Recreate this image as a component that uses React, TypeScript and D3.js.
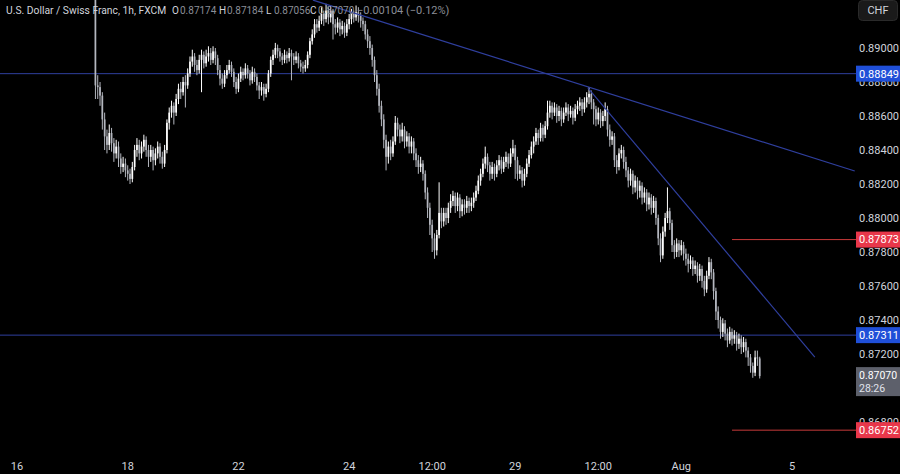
import React from "react";
import * as d3 from "d3";

const firstBar = 34;
const firstOpen = 0.8932;
const closes = [
  0.8878,0.8877,0.8872,0.8858,0.8848,0.8843,0.8850,0.8844,0.8838,0.8842,
  0.8835,0.8830,0.8832,0.8828,0.8826,0.8823,0.8830,0.8840,0.8843,0.8838,
  0.8842,0.8846,0.8840,0.8836,0.8840,0.8834,0.8838,0.8842,0.8836,0.8832,
  0.8840,0.8856,0.8862,0.8866,0.8862,0.8870,0.8876,0.8874,0.8880,0.8878,
  0.8885,0.8892,0.8895,0.8890,0.8887,0.8893,0.8896,0.8891,0.8895,0.8897,
  0.8893,0.8898,0.8894,0.8887,0.8882,0.8879,0.8884,0.8887,0.8890,0.8886,
  0.8880,0.8876,0.8882,0.8886,0.8884,0.8888,0.8885,0.8881,0.8886,0.8883,
  0.8878,0.8875,0.8877,0.8873,0.8876,0.8885,0.8893,0.8896,0.8900,0.8898,
  0.8895,0.8893,0.8896,0.8894,0.8897,0.8895,0.8893,0.8895,0.8891,0.8889,
  0.8888,0.8890,0.8896,0.8904,0.8908,0.8914,0.8912,0.8916,0.8920,0.8917,
  0.8922,0.8918,0.8922,0.8914,0.8912,0.8915,0.8911,0.8913,0.8909,0.8914,
  0.8917,0.8920,0.8918,0.8921,0.8919,0.8916,0.8914,0.8908,0.8904,0.8900,
  0.8893,0.8884,0.8876,0.8866,0.8858,0.8846,0.8836,0.8842,0.8838,0.8845,
  0.8856,0.8852,0.8848,0.8852,0.8845,0.8848,0.8842,0.8845,0.8838,0.8834,
  0.8830,0.8832,0.8826,0.8815,0.8806,0.8796,0.8788,0.8781,0.8790,0.8803,
  0.8798,0.8803,0.8800,0.8806,0.8810,0.8813,0.8807,0.8812,0.8804,0.8808,
  0.8806,0.8810,0.8807,0.8809,0.8812,0.8816,0.8822,0.8826,0.8832,0.8836,
  0.8831,0.8826,0.8830,0.8826,0.8831,0.8834,0.8829,0.8833,0.8836,0.8832,
  0.8838,0.8841,0.8834,0.8826,0.8828,0.8822,0.8826,0.8832,0.8837,0.8842,
  0.8845,0.8850,0.8847,0.8853,0.8849,0.8854,0.8862,0.8866,0.8862,0.8865,
  0.8860,0.8863,0.8858,0.8862,0.8865,0.8861,0.8863,0.8859,0.8864,0.8866,
  0.8868,0.8864,0.8868,0.8871,0.8873,0.8868,0.8864,0.8858,0.8862,0.8857,
  0.8860,0.8864,0.8852,0.8846,0.8848,0.8834,0.8830,0.8838,0.8840,0.8833,
  0.8828,0.8822,0.8826,0.8818,0.8822,0.8816,0.8819,0.8812,0.8815,0.8808,
  0.8812,0.8806,0.8810,0.8800,0.8788,0.8778,0.8792,0.8800,0.8804,0.8797,
  0.8784,0.8780,0.8785,0.8781,0.8784,0.8779,0.8776,0.8773,0.8775,0.8770,
  0.8772,0.8766,0.8770,0.8763,0.8758,0.8766,0.8774,0.8768,0.8757,0.8745,
  0.8740,0.8733,0.8738,0.8732,0.8728,0.8733,0.8729,0.8731,0.8726,0.8729,
  0.8724,0.8727,0.8722,0.8718,0.8713,0.8709,0.8718,0.87174,0.87070,
];
const highs = [
  0.8936,0.8884,0.8880,0.8874,0.8862,0.8852,0.8855,0.8853,0.8847,0.8846,
  0.8845,0.8838,0.8836,0.8835,0.8831,0.8829,0.8833,0.8843,0.8847,0.8846,
  0.8845,0.8849,0.8848,0.8843,0.8843,0.8842,0.8841,0.8845,0.8844,0.8839,
  0.8843,0.8858,0.8865,0.8869,0.8868,0.8873,0.8879,0.8880,0.8883,0.8884,
  0.8888,0.8895,0.8899,0.8897,0.8893,0.8896,0.8899,0.8898,0.8899,0.8901,
  0.8900,0.8901,0.8900,0.8896,0.8890,0.8885,0.8887,0.8890,0.8893,0.8892,
  0.8888,0.8883,0.8885,0.8889,0.8888,0.8891,0.8890,0.8887,0.8889,0.8888,
  0.8885,0.8880,0.8880,0.8879,0.8879,0.8887,0.8895,0.8899,0.8903,0.8902,
  0.8900,0.8897,0.8899,0.8898,0.8900,0.8899,0.8897,0.8898,0.8897,0.8893,
  0.8892,0.8893,0.8898,0.8906,0.8911,0.8917,0.8917,0.8919,0.8924,0.8922,
  0.8926,0.8924,0.8925,0.8923,0.8917,0.8918,0.8917,0.8916,0.8915,0.8917,
  0.8920,0.8923,0.8922,0.8925,0.8924,0.8921,0.8918,0.8916,0.8911,0.8907,
  0.8902,0.8895,0.8887,0.8879,0.8869,0.8861,0.8849,0.8845,0.8846,0.8848,
  0.8860,0.8859,0.8855,0.8856,0.8854,0.8851,0.8850,0.8848,0.8847,0.8841,
  0.8837,0.8836,0.8834,0.8828,0.8818,0.8809,0.8799,0.8791,0.8793,0.8821,
  0.8806,0.8806,0.8806,0.8809,0.8814,0.8816,0.8815,0.8815,0.8814,0.8811,
  0.8811,0.8813,0.8812,0.8812,0.8815,0.8819,0.8825,0.8829,0.8835,0.8842,
  0.8838,0.8833,0.8833,0.8832,0.8834,0.8837,0.8836,0.8836,0.8839,0.8838,
  0.8841,0.8846,0.8843,0.8836,0.8831,0.8830,0.8829,0.8835,0.8840,0.8845,
  0.8848,0.8853,0.8852,0.8856,0.8855,0.8857,0.8869,0.8869,0.8868,0.8868,
  0.8867,0.8866,0.8865,0.8865,0.8868,0.8867,0.8866,0.8865,0.8867,0.8869,
  0.8871,0.8870,0.8871,0.8874,0.8877,0.8875,0.8870,0.8866,0.8865,0.8864,
  0.8863,0.8868,0.8866,0.8855,0.8851,0.8850,0.8837,0.8841,0.8843,0.8842,
  0.8836,0.8830,0.8829,0.8828,0.8825,0.8824,0.8822,0.8821,0.8818,0.8817,
  0.8815,0.8814,0.8813,0.8812,0.8802,0.8791,0.8795,0.8803,0.8818,0.8806,
  0.8799,0.8787,0.8788,0.8787,0.8787,0.8786,0.8782,0.8779,0.8778,0.8777,
  0.8775,0.8774,0.8773,0.8772,0.8766,0.8769,0.8777,0.8776,0.8770,0.8759,
  0.8748,0.8742,0.8741,0.8740,0.8735,0.8736,0.8735,0.8734,0.8733,0.8732,
  0.8731,0.8730,0.8729,0.8724,0.8720,0.8715,0.8722,0.8722,0.87184,
];
const lows = [
  0.8870,0.8870,0.8866,0.8852,0.8840,0.8838,0.8840,0.8839,0.8833,0.8835,
  0.8830,0.8826,0.8827,0.8824,0.8822,0.8820,0.8821,0.8828,0.8836,0.8834,
  0.8835,0.8839,0.8836,0.8830,0.8833,0.8828,0.8831,0.8835,0.8832,0.8829,
  0.8830,0.8838,0.8852,0.8859,0.8855,0.8860,0.8867,0.8870,0.8872,0.8865,
  0.8876,0.8883,0.8889,0.8886,0.8884,0.8885,0.8874,0.8888,0.8889,0.8892,
  0.8890,0.8891,0.8890,0.8884,0.8878,0.8876,0.8877,0.8882,0.8885,0.8883,
  0.8877,0.8873,0.8874,0.8880,0.8881,0.8882,0.8882,0.8878,0.8879,0.8880,
  0.8875,0.8870,0.8872,0.8869,0.8871,0.8874,0.8883,0.8890,0.8894,0.8894,
  0.8892,0.8890,0.8891,0.8891,0.8892,0.8881,0.8890,0.8891,0.8888,0.8886,
  0.8885,0.8886,0.8888,0.8894,0.8902,0.8906,0.8909,0.8910,0.8914,0.8913,
  0.8915,0.8914,0.8915,0.8905,0.8908,0.8909,0.8907,0.8908,0.8906,0.8907,
  0.8911,0.8914,0.8915,0.8916,0.8915,0.8912,0.8910,0.8905,0.8900,0.8896,
  0.8889,0.8880,0.8872,0.8862,0.8854,0.8841,0.8828,0.8832,0.8834,0.8836,
  0.8843,0.8848,0.8844,0.8845,0.8841,0.8842,0.8838,0.8838,0.8834,0.8830,
  0.8826,0.8827,0.8822,0.8811,0.8800,0.8790,0.8780,0.8776,0.8778,0.8788,
  0.8794,0.8795,0.8796,0.8797,0.8803,0.8807,0.8803,0.8804,0.8800,0.8801,
  0.8802,0.8803,0.8803,0.8804,0.8806,0.8810,0.8814,0.8819,0.8824,0.8829,
  0.8827,0.8822,0.8823,0.8822,0.8824,0.8828,0.8826,0.8827,0.8830,0.8829,
  0.8830,0.8836,0.8823,0.8822,0.8823,0.8818,0.8819,0.8824,0.8830,0.8835,
  0.8838,0.8843,0.8843,0.8845,0.8845,0.8847,0.8852,0.8859,0.8858,0.8860,
  0.8856,0.8857,0.8854,0.8856,0.8860,0.8857,0.8859,0.8855,0.8857,0.8861,
  0.8863,0.8860,0.8862,0.8865,0.8867,0.8864,0.8855,0.8854,0.8855,0.8853,
  0.8854,0.8857,0.8848,0.8842,0.8843,0.8830,0.8826,0.8828,0.8835,0.8829,
  0.8824,0.8818,0.8819,0.8814,0.8815,0.8811,0.8812,0.8808,0.8809,0.8804,
  0.8805,0.8802,0.8803,0.8796,0.8784,0.8774,0.8776,0.8789,0.8797,0.8793,
  0.8780,0.8776,0.8777,0.8777,0.8778,0.8775,0.8772,0.8768,0.8770,0.8766,
  0.8767,0.8762,0.8763,0.8759,0.8754,0.8756,0.8764,0.8764,0.8752,0.8740,
  0.8735,0.8729,0.8730,0.8728,0.8724,0.8726,0.8725,0.8726,0.8722,0.8723,
  0.8720,0.8721,0.8718,0.8713,0.8709,0.8706,0.8707,0.8713,0.87056,
];

// time axis: bar index (hourly, weekends removed) from Jul 16 00:00
const timeTicks = [
  { bar: 0, label: "16" },
  { bar: 48, label: "18" },
  { bar: 96, label: "22" },
  { bar: 144, label: "24" },
  { bar: 180, label: "12:00" },
  { bar: 216, label: "29" },
  { bar: 252, label: "12:00" },
  { bar: 288, label: "Aug" },
  { bar: 336, label: "5" },
];
const priceTicks = [0.89, 0.888, 0.886, 0.884, 0.882, 0.88, 0.878, 0.876, 0.874, 0.872, 0.868];

const blueLevels = [0.88849, 0.87311];
const redLevels = [0.87873, 0.86752];
const redLevelStartBar = 310;
// trend lines: [barA, priceA, barB, priceB]
const trendLines = [
  [128.3, 0.89282, 363.2, 0.882765],
  [247.5, 0.88765, 345.9, 0.87182],
];
const lastPrice = 0.8707;
const countdown = "28:26";
const titleText = "U.S. Dollar / Swiss Franc, 1h, FXCM";
const ohlcLabels = [
  { k: "O", v: "0.87174", x: 172 },
  { k: "H", v: "0.87184", x: 219 },
  { k: "L", v: "0.87056", x: 266 },
  { k: "C", v: "0.87070", x: 310 },
];
const changeText = "\u22120.00104 (\u22120.12%)";

const W = 900;
const H = 474;
const plotRight = 856;
const font = "Roboto, 'Noto Sans', sans-serif";

export default function App() {
  const x = d3.scaleLinear().domain([0, 336]).range([17, 792]);
  const y = d3.scaleLinear().domain([0.868, 0.89]).range([422, 48]);
  const fmt = d3.format(".5f");

  const candles = closes.map((c, i) => {
    const o = i === 0 ? firstOpen : closes[i - 1];
    return { bar: firstBar + i, o, h: highs[i], l: lows[i], c };
  });
  const bw = 1.7;

  return (
    <svg
      width={W}
      height={H}
      style={{ position: "fixed", left: 0, top: 0, background: "#000" }}
      fontFamily={font}
    >
      <rect x={0} y={0} width={W} height={H} fill="#000" />
      <defs>
        <clipPath id="plot">
          <rect x={0} y={0} width={plotRight} height={450} />
        </clipPath>
      </defs>

      {/* price ticks */}
      {priceTicks.map((p) => (
        <text key={p} x={859} y={y(p)} dy="0.35em" fontSize={11} fill="#d1d4dc">
          {fmt(p)}
        </text>
      ))}

      <g clipPath="url(#plot)">
        {blueLevels.map((p) => (
          <line key={p} x1={0} x2={plotRight} y1={y(p)} y2={y(p)} stroke="#2f3f9e" strokeWidth={1} />
        ))}
        {redLevels.map((p) => (
          <line key={p} x1={x(redLevelStartBar)} x2={plotRight} y1={y(p)} y2={y(p)} stroke="#c73a3a" strokeWidth={1} />
        ))}
        {candles.map((d) => {
          const up = d.c >= d.o;
          const col = up ? "#ffffff" : "#b4b7bf";
          const top = y(Math.max(d.o, d.c));
          const bot = y(Math.min(d.o, d.c));
          const cx = x(d.bar);
          return (
            <g key={d.bar}>
              <line x1={cx} x2={cx} y1={y(d.h)} y2={y(d.l)} stroke={col} strokeWidth={1} />
              <rect x={cx - bw / 2} y={top} width={bw} height={Math.max(1, bot - top)} fill={col} />
            </g>
          );
        })}
        {trendLines.map((t, i) => (
          <line
            key={i}
            x1={x(t[0])}
            y1={y(t[1])}
            x2={x(t[2])}
            y2={y(t[3])}
            stroke="#2f3f9e"
            strokeWidth={1.2}
          />
        ))}
      </g>

      {/* title */}
      <g fontSize={10.3}>
        <text x={6} y={14} fill="#d1d4dc">{titleText}</text>
        {ohlcLabels.map((o) => (
          <g key={o.k}>
            <text x={o.x} y={14} fill="#d1d4dc" fontSize={10}>{o.k}</text>
            <text x={o.x + 8} y={14} fill="#8b8e97" fontSize={10}>{o.v}</text>
          </g>
        ))}
        <text x={357} y={14} fill="#8b8e97" fontSize={11}>{changeText}</text>
      </g>

      {/* CHF button */}
      <rect x={858.5} y={0.5} width={39} height={20} rx={4} fill="#1a1a1a" stroke="#2a2a2a" />
      <text x={878} y={10.5} dy="0.35em" textAnchor="middle" fontSize={11} fill="#d1d4dc">CHF</text>

      {/* level labels */}
      {blueLevels.map((p) => (
        <g key={p}>
          <rect x={plotRight} y={y(p) - 8} width={44} height={16} fill="#1f4fd8" />
          <text x={859} y={y(p)} dy="0.35em" fontSize={11} fill="#ffffff">{fmt(p)}</text>
        </g>
      ))}
      {redLevels.map((p) => (
        <g key={p}>
          <rect x={plotRight} y={y(p) - 8} width={44} height={16} fill="#e8374a" />
          <text x={859} y={y(p)} dy="0.35em" fontSize={11} fill="#ffffff">{fmt(p)}</text>
        </g>
      ))}
      <g>
        <rect x={plotRight} y={y(lastPrice) - 9} width={44} height={29} fill="#5d606b" />
        <text x={859} y={y(lastPrice) - 0.5} dy="0.35em" fontSize={10.5} fill="#ffffff">{fmt(lastPrice)}</text>
        <text x={859} y={y(lastPrice) + 12.5} dy="0.35em" fontSize={10.5} fill="#e0e3eb">{countdown}</text>
      </g>

      {/* time axis */}
      {timeTicks.map((t) => (
        <text
          key={t.bar + t.label}
          x={x(t.bar)}
          y={466}
          dy="0.35em"
          textAnchor="middle"
          fontSize={11}
          fill="#d1d4dc"
        >
          {t.label}
        </text>
      ))}
    </svg>
  );
}
